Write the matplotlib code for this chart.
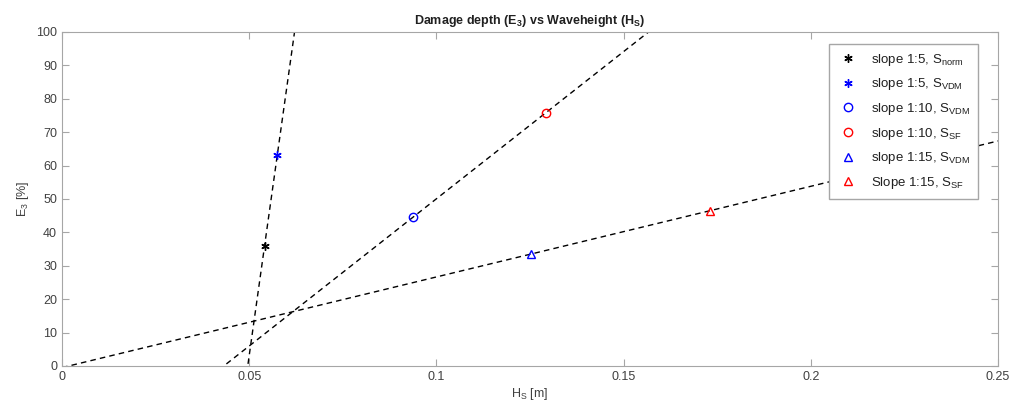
import numpy as np
import matplotlib
matplotlib.use('Agg')
import matplotlib.pyplot as plt

plt.rcParams['font.family'] = ['Liberation Sans', 'DejaVu Sans']
plt.rcParams['mathtext.default'] = 'regular'

# measured points (Hs [m], E3 [%])
hs_1_5_norm = [0.0541]
e3_1_5_norm = [36.0]
hs_1_5_vdm = [0.0575]
e3_1_5_vdm = [63.2]
hs_1_10_vdm = [0.0938]
e3_1_10_vdm = [44.6]
hs_1_10_sf = [0.1292]
e3_1_10_sf = [75.8]
hs_1_15_vdm = [0.1252]
e3_1_15_vdm = [33.5]
hs_1_15_sf = [0.1731]
e3_1_15_sf = [46.5]

xticks = [0, 0.05, 0.1, 0.15, 0.2, 0.25]
xtick_labels = ['0', '0.05', '0.1', '0.15', '0.2', '0.25']
yticks = list(range(0, 101, 10))

grey = '#a6a6a6'
txt = '#404040'

fig = plt.figure(figsize=(10.12, 4.11), dpi=100)
ax = fig.add_axes([0.0613, 0.1095, 0.9249, 0.8127])

# linear fits through each slope's pair of points
x_fit = np.linspace(0, 0.25, 500)
pairs = [
    (hs_1_5_norm + hs_1_5_vdm, e3_1_5_norm + e3_1_5_vdm),
    (hs_1_10_vdm + hs_1_10_sf, e3_1_10_vdm + e3_1_10_sf),
    (hs_1_15_vdm + hs_1_15_sf, e3_1_15_vdm + e3_1_15_sf),
]

ax.plot(hs_1_5_norm, e3_1_5_norm, linestyle='none', marker=(6, 2, 0), color='k', ms=6, mew=1, label='slope 1:5, S$_{norm}$', zorder=3)
ax.plot(hs_1_5_vdm, e3_1_5_vdm, linestyle='none', marker=(6, 2, 0), color='b', ms=6, mew=1, label='slope 1:5, S$_{VDM}$', zorder=3)
ax.plot(hs_1_10_vdm, e3_1_10_vdm, linestyle='none', marker='o', mfc='none', mec='b', ms=6, mew=1, label='slope 1:10, S$_{VDM}$', zorder=3)
ax.plot(hs_1_10_sf, e3_1_10_sf, linestyle='none', marker='o', mfc='none', mec='r', ms=6, mew=1, label='slope 1:10, S$_{SF}$', zorder=3)
ax.plot(hs_1_15_vdm, e3_1_15_vdm, linestyle='none', marker='^', mfc='none', mec='b', ms=6, mew=1, label='slope 1:15, S$_{VDM}$', zorder=3)
ax.plot(hs_1_15_sf, e3_1_15_sf, linestyle='none', marker='^', mfc='none', mec='r', ms=6, mew=1, label='Slope 1:15, S$_{SF}$', zorder=3)

for xs, ys in pairs:
    p = np.polyfit(xs, ys, 1)
    ax.plot(x_fit, np.polyval(p, x_fit), 'k--', lw=1, dashes=(4, 3), zorder=2)

ax.set_xlim(0, 0.25)
ax.set_ylim(0, 100)
ax.set_xticks(xticks)
ax.set_xticklabels(xtick_labels)
ax.set_yticks(yticks)
ax.tick_params(direction='in', length=5, colors=txt, labelsize=9, top=True, right=True)
ax.tick_params(axis='both', color=grey)
for s in ax.spines.values():
    s.set_color(grey)

ax.set_xlabel('H$_S$ [m]', fontsize=9, color=txt, labelpad=2)
ax.set_ylabel('E$_3$ [%]', fontsize=9, color=txt, labelpad=4)
ax.set_title('Damage depth (E$_3$) vs Waveheight (H$_S$)', fontsize=9, fontweight='bold', color='#202020', pad=6)

leg = ax.legend(loc='upper right', bbox_to_anchor=(0.9786, 0.964), fontsize=9.5, frameon=True, fancybox=False,
                framealpha=1, edgecolor=grey, labelspacing=0.65, handletextpad=0.8, borderpad=0.6,
                handlelength=1.8, borderaxespad=0)
leg.get_frame().set_linewidth(1)
for t in leg.get_texts():
    t.set_color('#202020')

fig.savefig('out.png', dpi=100)
